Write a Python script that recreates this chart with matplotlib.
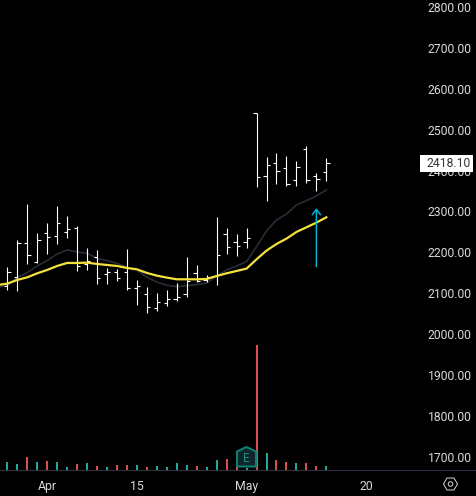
"""TradingView style OHLC chart with two moving averages and volume, dark theme."""
import matplotlib
matplotlib.use("Agg")
import matplotlib.pyplot as plt
from matplotlib.lines import Line2D
from matplotlib.patches import Circle, Polygon, Rectangle

plt.rcParams["font.family"] = ["Roboto", "DejaVu Sans"]

# ---------------------------------------------------------------------------
# Data
# ---------------------------------------------------------------------------
opens = [2118.7, 2140.7, 2222.2, 2177.4, 2246.7, 2239.3, 2249.0, 2258.9, 2171.7, 2188.0, 2146.4,
         2152.1, 2151.3, 2112.2, 2097.5, 2063.3, 2077.1, 2085.3, 2099.1, 2148.8, 2133.4, 2143.1,
         2245.0, 2224.6, 2224.6, 2540.0, 2387.6, 2417.8, 2405.5, 2376.2, 2452.0, 2386.0, 2396.6]
highs = [2163.5, 2230.4, 2318.4, 2247.5, 2271.9, 2313.5, 2289.0, 2263.8, 2210.0, 2205.9, 2161.9,
         2158.6, 2207.5, 2132.6, 2115.4, 2101.6, 2108.0, 2125.2, 2188.8, 2169.2, 2144.0, 2286.6,
         2259.7, 2245.0, 2259.7, 2540.0, 2433.2, 2443.0, 2435.7, 2423.5, 2459.3, 2393.3, 2430.8]
lows = [2108.0, 2106.5, 2172.5, 2174.9, 2196.1, 2221.4, 2236.0, 2155.4, 2157.8, 2123.6, 2123.6,
        2130.9, 2108.9, 2072.2, 2052.7, 2057.6, 2069.8, 2082.0, 2091.8, 2128.5, 2126.8, 2121.1,
        2196.1, 2192.0, 2210.8, 2360.7, 2326.5, 2368.0, 2363.1, 2363.1, 2370.5, 2350.9, 2375.4]
closes = [2151.3, 2222.2, 2192.9, 2229.5, 2238.5, 2271.1, 2256.4, 2167.6, 2179.8, 2136.6, 2152.9,
          2137.4, 2113.0, 2117.1, 2065.7, 2077.9, 2085.3, 2090.2, 2129.3, 2130.9, 2139.0, 2192.9,
          2212.4, 2214.9, 2234.4, 2383.5, 2412.9, 2398.2, 2366.4, 2408.0, 2376.2, 2378.6, 2418.1]
volumes = [8, 6, 13, 8, 9, 8, 3, 6, 7, 4, 3, 5, 5, 5, 3, 4, 3,
           7, 5, 4, 3, 10, 11, 5, 2, 125, 17, 10, 8, 7, 7, 4, 4]
ma_slow = [2120.0, 2123.6, 2132.6, 2139.0, 2148.8, 2157.0, 2166.8, 2174.1, 2174.1, 2174.9, 2171.7,
           2169.2, 2166.8, 2161.9, 2158.6, 2149.7, 2143.1, 2138.3, 2134.2, 2134.2, 2134.2, 2135.0,
           2142.3, 2148.8, 2154.6, 2160.3, 2183.1, 2204.3, 2220.6, 2233.6, 2249.9, 2261.3, 2272.7, 2285.8]
ma_fast = [2114.0, 2118.7, 2139.0, 2150.5, 2166.8, 2179.8, 2196.1, 2205.9, 2201.0, 2197.7, 2185.5,
           2179.8, 2173.3, 2163.5, 2157.0, 2139.0, 2127.7, 2119.5, 2116.3, 2118.7, 2121.1, 2125.2,
           2142.3, 2157.0, 2166.8, 2177.4, 2214.0, 2252.4, 2279.2, 2293.9, 2315.9, 2326.5, 2337.9, 2352.6]

price_ticks = [1700, 1800, 1900, 2000, 2100, 2200, 2300, 2400, 2500, 2600, 2700, 2800]
time_ticks = [4, 13, 24, 36]
time_labels = ["Apr", "15", "May", "20"]
last_price = 2418.10
arrow_bar = 31
arrow_from = 2165
arrow_to = 2308

# ---------------------------------------------------------------------------
# Layout / colours
# ---------------------------------------------------------------------------
W, H = 477, 496
PANE_W, PANE_H = 420, 470
UP, DOWN = "#26a69a", "#d84f4f"
GRID = "#2f3140"
TEXT = "#d9d9de"

fig = plt.figure(figsize=(W / 100, H / 100), dpi=100, facecolor="black")
ax = fig.add_axes([0, 1 - PANE_H / H, PANE_W / W, PANE_H / H], facecolor="black")
vol = fig.add_axes(ax.get_position(), sharex=ax, facecolor="none")
vol.set_zorder(0)
ax.set_zorder(1)
ax.patch.set_alpha(0)

bars = list(range(len(closes)))
ax.set_xlim((0 - 7.3) / 9.97, (PANE_W - 7.3) / 9.97)
ax.set_ylim(1667.9, 2817.1)
vol.set_ylim(0, PANE_H)

# volume underneath everything
vol_colors = [UP if c >= o else DOWN for o, c in zip(opens, closes)]
vol.bar(bars, volumes, width=0.2, color=vol_colors, linewidth=0)
vol.axis("off")

# moving averages start one bar off the left edge
ma_x = [b - 1 for b in range(len(ma_slow))]
ax.plot(ma_x, ma_fast, color="#2a2c38", lw=1.2, zorder=2)

# OHLC bars
ax.vlines(bars, lows, highs, color="white", lw=0.8, zorder=3)
ax.hlines(opens, [b - 0.33 for b in bars], bars, color="white", lw=0.8, zorder=3)
ax.hlines(closes, bars, [b + 0.33 for b in bars], color="white", lw=0.8, zorder=3)

ax.plot(ma_x, ma_slow, color="#f5e13c", lw=1.6, zorder=4)

# arrow drawing
ax.annotate("", xy=(arrow_bar, arrow_to), xytext=(arrow_bar, arrow_from), zorder=5,
            arrowprops=dict(arrowstyle="->,head_width=0.3,head_length=0.38", color="#00b4cc",
                            lw=1.1, shrinkA=0, shrinkB=0))

ax.yaxis.tick_right()
ax.set_yticks(price_ticks)
ax.set_yticklabels([f"{p:.2f}" for p in price_ticks], color=TEXT, fontsize=8.7)
ax.tick_params(axis="y", length=0, pad=5.5)
ax.set_xticks(time_ticks)
ax.set_xticklabels(time_labels, color=TEXT, fontsize=8.8)
ax.tick_params(axis="x", length=0, pad=7)
for name in ("top", "left", "right"):
    ax.spines[name].set_visible(False)
ax.spines["bottom"].set_color(GRID)
ax.spines["bottom"].set_linewidth(0.8)

# ---------------------------------------------------------------------------
# Chrome drawn in figure pixels (y flipped, same as the screenshot)
# ---------------------------------------------------------------------------
over = fig.add_axes([0, 0, 1, 1], facecolor="none")
over.set_xlim(0, W)
over.set_ylim(H, 0)
over.axis("off")
over.set_zorder(5)

over.add_line(Line2D([421, W], [470, 470], color=GRID, lw=0.8))

# last price label
over.add_patch(Rectangle((420.5, 155), 52.5, 17, facecolor="white", edgecolor="none"))
over.text(471, 163.5, f"{last_price:.2f}", color="#333333", fontsize=8.7, ha="right", va="center")

# earnings badge
badge = [(237, 451.5), (246.3, 447), (256, 451.5), (256, 466.5), (237, 466.5)]
over.add_patch(Polygon(badge, closed=True, facecolor="#10252b", edgecolor="#0c7f72", lw=1.5, joinstyle="round"))
over.text(246.5, 458, "E", color="#14907f", fontsize=8.5, ha="center", va="center")

# settings hexagon
hexagon = [(443.5, 484), (447, 478), (454, 478), (457.5, 484), (454, 490), (447, 490)]
over.add_patch(Polygon(hexagon, closed=True, facecolor="none", edgecolor=TEXT, lw=0.7))
over.add_patch(Circle((450.5, 484), 2.3, facecolor="none", edgecolor=TEXT, lw=0.7))

fig.savefig("out.png", dpi=100, facecolor="black")
